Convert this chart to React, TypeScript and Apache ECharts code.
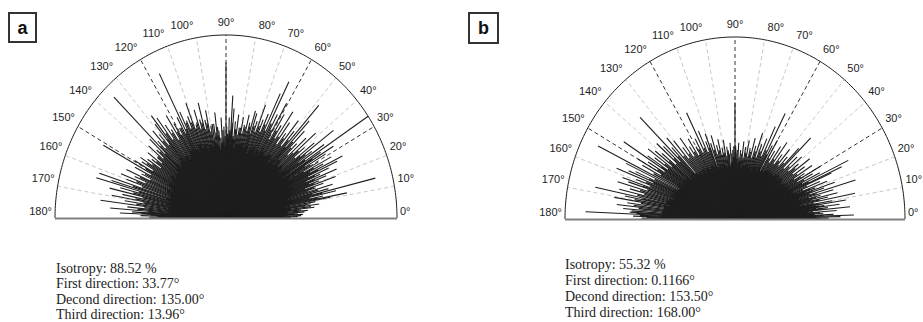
import React, { useEffect, useRef } from "react";
import * as echarts from "echarts";

const TICK_ANGLES = [0, 10, 20, 30, 40, 50, 60, 70, 80, 90, 100, 110, 120, 130, 140, 150, 160, 170, 180];
const TICK_LABELS = ["0°", "10°", "20°", "30°", "40°", "50°", "60°", "70°", "80°", "90°", "100°", "110°", "120°", "130°", "140°", "150°", "160°", "170°", "180°"];
const GRID_ANGLES = [10, 20, 30, 40, 50, 60, 70, 80, 90, 100, 110, 120, 130, 140, 150, 160, 170];
const MAJOR_GRID = [30, 60, 90, 120, 150];

const BLOB_BIN = 2;

// panel a: dense core (2° bins, fraction of radius)
const BLOB_A = [
  0.34, 0.36, 0.33, 0.38, 0.35, 0.37, 0.40, 0.36, 0.39, 0.41,
  0.38, 0.42, 0.40, 0.44, 0.41, 0.43, 0.40, 0.45, 0.42, 0.40,
  0.43, 0.41, 0.44, 0.40, 0.42, 0.39, 0.43, 0.41, 0.40, 0.42,
  0.39, 0.41, 0.38, 0.42, 0.40, 0.37, 0.41, 0.39, 0.42, 0.40,
  0.41, 0.38, 0.43, 0.40, 0.42, 0.39, 0.41, 0.37, 0.40, 0.42,
  0.39, 0.41, 0.38, 0.42, 0.40, 0.43, 0.39, 0.41, 0.40, 0.42,
  0.40, 0.38, 0.41, 0.39, 0.42, 0.40, 0.38, 0.41, 0.39, 0.37,
  0.38, 0.36, 0.39, 0.37, 0.35, 0.38, 0.36, 0.34, 0.37, 0.35,
  0.34, 0.36, 0.33, 0.35, 0.32, 0.34, 0.33, 0.31, 0.33, 0.32,
];

const SPIKE_ANGLES_A = [
  1.0, 2.5, 3.5, 5.0, 6.5, 8.0, 9.0, 10.5, 11.0, 12.0, 13.0, 14.0, 15.0, 16.5, 17.5, 18.5, 19.5,
  20.5, 21.5, 22.5, 23.5, 24.5, 25.5, 26.5, 27.5, 28.5, 29.5, 31.0, 32.0, 33.0, 33.8, 35.0, 36.0,
  37.3, 38.5, 40.0, 41.5, 43.0, 44.5, 46.0, 47.5, 48.6, 50.0, 51.5, 53.0, 54.5, 56.0, 57.5, 59.0,
  60.5, 62.0, 63.7, 65.0, 66.5, 68.0, 69.5, 71.0, 72.5, 73.6, 75.0, 76.5, 78.0, 79.5, 81.0, 82.5,
  84.0, 85.5, 86.6, 88.0, 89.5, 90.0,
  91.4, 93.0, 95.0, 96.5, 98.0, 100.0, 101.5, 103.0, 104.5, 106.0, 107.5, 109.0, 110.5, 112.0,
  113.5, 115.0, 116.3, 117.5, 119.0, 120.5, 122.0, 123.5, 125.0, 126.5, 128.0, 129.0, 130.5, 132.0,
  133.5, 134.8, 136.0, 137.5, 139.0, 140.5, 142.0, 143.5, 145.0, 146.5, 148.0, 149.5, 151.0, 152.5,
  154.0, 155.5, 157.0, 158.5, 160.0, 161.7, 163.0, 163.8, 165.0, 166.5, 168.0, 169.5, 171.0, 172.5,
  174.0, 175.4, 176.5, 177.5, 178.5, 179.5,
];
const SPIKE_LENGTHS_A = [
  0.42, 0.45, 0.40, 0.48, 0.52, 0.55, 0.50, 0.62, 0.72, 0.58, 0.66, 0.90, 0.62, 0.65, 0.55, 0.60, 0.68,
  0.58, 0.63, 0.70, 0.60, 0.66, 0.72, 0.76, 0.64, 0.70, 0.62, 0.68, 0.74, 0.66, 1.00, 0.70, 0.62,
  0.79, 0.66, 0.60, 0.70, 0.64, 0.58, 0.66, 0.72, 0.82, 0.62, 0.68, 0.58, 0.64, 0.70, 0.60, 0.66,
  0.72, 0.64, 0.83, 0.75, 0.62, 0.58, 0.66, 0.56, 0.60, 0.61, 0.54, 0.58, 0.52, 0.56, 0.50, 0.57,
  0.53, 0.60, 0.67, 0.55, 0.50, 0.85,
  0.50, 0.55, 0.48, 0.58, 0.52, 0.51, 0.60, 0.55, 0.65, 0.56, 0.62, 0.54, 0.67, 0.60,
  0.58, 0.64, 0.88, 0.62, 0.56, 0.60, 0.66, 0.58, 0.62, 0.68, 0.71, 0.66, 0.60, 0.64,
  0.58, 0.93, 0.62, 0.55, 0.60, 0.52, 0.58, 0.54, 0.56, 0.60, 0.58, 0.62, 0.82, 0.60,
  0.55, 0.64, 0.58, 0.66, 0.62, 0.78, 0.70, 0.79, 0.64, 0.70, 0.62, 0.68, 0.60, 0.74,
  0.58, 0.68, 0.55, 0.62, 0.50, 0.45,
];

// panel a: shorter fibres forming the ragged fringe of the core
const FRINGE_ANGLES_A = [
  0.5, 1.7, 3.0, 4.2, 5.8, 7.2, 8.5, 9.7, 11.6, 12.6, 13.5, 14.6, 15.8, 17.0, 18.0, 19.0, 20.0, 21.0,
  22.0, 23.0, 24.0, 25.0, 26.0, 27.0, 28.0, 29.0, 30.3, 31.5, 32.6, 34.4, 35.6, 36.7, 37.9, 39.2,
  40.8, 42.2, 43.8, 45.2, 46.8, 48.0, 49.3, 50.8, 52.2, 53.8, 55.2, 56.8, 58.2, 59.8, 61.2, 62.8,
  64.4, 65.8, 67.2, 68.8, 70.2, 71.8, 73.0, 74.3, 75.8, 77.2, 78.8, 80.2, 81.8, 83.2, 84.8, 86.0,
  87.3, 88.8,
  90.7, 92.2, 94.0, 95.8, 97.2, 99.0, 100.8, 102.2, 103.8, 105.2, 106.8, 108.2, 109.8, 111.2, 112.8,
  114.2, 115.6, 116.9, 118.2, 119.8, 121.2, 122.8, 124.2, 125.8, 127.2, 128.6, 129.8, 131.2, 132.8,
  134.2, 135.4, 136.8, 138.2, 139.8, 141.2, 142.8, 144.2, 145.8, 147.2, 148.8, 150.2, 151.8, 153.2,
  154.8, 156.2, 157.8, 159.2, 160.8, 162.4, 164.4, 165.8, 167.2, 168.8, 170.2, 171.8, 173.2, 174.7,
  176.0, 177.0, 178.0, 179.0,
];
const FRINGE_LENGTHS_A = [
  0.38, 0.44, 0.42, 0.46, 0.44, 0.50, 0.47, 0.53, 0.55, 0.50, 0.58, 0.52, 0.56, 0.50, 0.54, 0.49, 0.55, 0.52,
  0.56, 0.51, 0.57, 0.53, 0.60, 0.55, 0.58, 0.52, 0.57, 0.54, 0.60, 0.56, 0.52, 0.58, 0.55, 0.52,
  0.56, 0.53, 0.50, 0.54, 0.57, 0.52, 0.56, 0.51, 0.55, 0.50, 0.54, 0.52, 0.56, 0.50, 0.55, 0.58,
  0.53, 0.56, 0.51, 0.54, 0.50, 0.53, 0.48, 0.52, 0.49, 0.51, 0.47, 0.50, 0.46, 0.49, 0.45, 0.52,
  0.48, 0.46,
  0.45, 0.48, 0.44, 0.50, 0.47, 0.52, 0.48, 0.53, 0.50, 0.54, 0.51, 0.55, 0.52, 0.56, 0.53,
  0.57, 0.54, 0.52, 0.56, 0.52, 0.55, 0.51, 0.56, 0.53, 0.58, 0.55, 0.52, 0.56, 0.52,
  0.55, 0.50, 0.53, 0.49, 0.52, 0.48, 0.51, 0.47, 0.52, 0.55, 0.50, 0.54, 0.50, 0.53,
  0.49, 0.55, 0.51, 0.56, 0.52, 0.57, 0.53, 0.56, 0.50, 0.54, 0.49, 0.53, 0.48, 0.52,
  0.46, 0.50, 0.44, 0.40,
];

// panel b
const BLOB_B = [
  0.44, 0.42, 0.43, 0.40, 0.41, 0.39, 0.40, 0.38, 0.39, 0.37,
  0.38, 0.36, 0.37, 0.35, 0.36, 0.34, 0.35, 0.33, 0.34, 0.35,
  0.33, 0.35, 0.34, 0.32, 0.33, 0.31, 0.33, 0.32, 0.30, 0.31,
  0.30, 0.32, 0.29, 0.31, 0.30, 0.28, 0.30, 0.29, 0.31, 0.29,
  0.30, 0.28, 0.31, 0.29, 0.33, 0.34, 0.31, 0.29, 0.30, 0.28,
  0.29, 0.31, 0.28, 0.30, 0.29, 0.31, 0.30, 0.32, 0.30, 0.31,
  0.32, 0.30, 0.33, 0.31, 0.33, 0.32, 0.34, 0.33, 0.35, 0.33,
  0.34, 0.36, 0.35, 0.37, 0.35, 0.38, 0.36, 0.37, 0.39, 0.38,
  0.39, 0.37, 0.40, 0.41, 0.39, 0.42, 0.41, 0.43, 0.42, 0.44,
];

const SPIKE_ANGLES_B = [
  0.5, 1.2, 1.8, 2.5, 3.5, 4.5, 5.7, 6.5, 7.5, 8.3, 9.1, 10.0, 11.3, 12.5, 13.5, 14.5, 15.5, 16.8,
  18.0, 19.0, 20.0, 21.0, 22.5, 24.0, 24.6, 25.8, 27.0, 28.5, 30.0, 31.5, 33.0, 35.0, 37.0, 39.0,
  41.0, 43.0, 45.0, 46.0, 48.0, 50.0, 52.0, 54.0, 56.0, 58.0, 60.0, 61.5, 63.0, 65.0, 67.0, 69.0,
  71.0, 73.0, 75.0, 77.0, 79.0, 81.0, 83.0, 85.0, 87.0, 89.0, 90.0,
  92.0, 94.0, 95.5, 97.0, 99.0, 101.0, 103.0, 105.0, 107.0, 109.0, 110.5, 112.0, 114.0, 116.0,
  118.0, 120.0, 122.0, 124.0, 126.0, 128.0, 130.0, 132.0, 133.5, 135.0, 136.5, 138.0, 140.0, 141.5,
  143.0, 144.5, 146.0, 147.0, 148.5, 150.0, 151.5, 153.5, 154.5, 156.0, 157.0, 158.2, 159.5, 161.0,
  162.0, 163.5, 165.0, 166.5, 168.0, 169.0, 170.5, 172.0, 173.5, 175.0, 176.5, 177.4, 178.5, 179.5,
];
const SPIKE_LENGTHS_B = [
  0.55, 0.62, 0.70, 0.58, 0.52, 0.60, 0.68, 0.55, 0.62, 0.50, 0.66, 0.58, 0.72, 0.56, 0.62, 0.52, 0.60, 0.74,
  0.55, 0.62, 0.50, 0.58, 0.54, 0.62, 0.69, 0.74, 0.56, 0.52, 0.58, 0.48, 0.54, 0.50, 0.55, 0.48,
  0.52, 0.50, 0.63, 0.54, 0.46, 0.50, 0.45, 0.52, 0.48, 0.44, 0.50, 0.46, 0.65, 0.56, 0.48, 0.44,
  0.50, 0.42, 0.46, 0.40, 0.44, 0.40, 0.43, 0.38, 0.42, 0.36, 0.64,
  0.38, 0.42, 0.36, 0.40, 0.44, 0.40, 0.45, 0.42, 0.48, 0.44, 0.50, 0.46, 0.53, 0.65,
  0.50, 0.46, 0.52, 0.48, 0.55, 0.50, 0.56, 0.60, 0.54, 0.79, 0.58, 0.62, 0.56, 0.60,
  0.64, 0.58, 0.62, 0.78, 0.60, 0.66, 0.62, 0.90, 0.71, 0.64, 0.68, 0.75, 0.62, 0.70,
  0.66, 0.72, 0.64, 0.70, 0.84, 0.66, 0.72, 0.64, 0.70, 0.66, 0.62, 0.88, 0.60, 0.55,
];

const FRINGE_ANGLES_B = [
  0.2, 0.9, 2.1, 3.0, 4.0, 5.0, 6.1, 7.0, 7.9, 8.7, 9.6, 10.6, 11.9, 13.0, 14.0, 15.0, 16.2, 17.4,
  18.5, 19.5, 20.5, 21.8, 23.2, 25.2, 26.4, 27.8, 29.2, 30.8, 32.2, 34.0, 36.0, 38.0, 40.0, 42.0,
  44.0, 47.0, 49.0, 51.0, 53.0, 55.0, 57.0, 59.0, 62.2, 64.0, 66.0, 68.0, 70.0, 72.0, 74.0, 76.0,
  78.0, 80.0, 82.0, 84.0, 86.0, 88.0, 89.5,
  91.0, 93.0, 96.2, 98.0, 100.0, 102.0, 104.0, 106.0, 108.0, 111.2, 113.0, 115.0, 117.0, 119.0,
  121.0, 123.0, 125.0, 127.0, 129.0, 131.0, 134.2, 135.8, 137.2, 139.0, 140.8, 142.2, 143.8, 145.2,
  146.6, 147.8, 149.2, 150.8, 152.5, 155.2, 156.6, 157.6, 158.9, 160.2, 161.6, 162.8, 164.2, 165.8,
  167.2, 168.6, 169.8, 171.2, 172.8, 174.2, 175.8, 176.9, 178.0, 179.0,
];
const FRINGE_LENGTHS_B = [
  0.50, 0.48, 0.52, 0.47, 0.50, 0.46, 0.52, 0.48, 0.53, 0.46, 0.50, 0.47, 0.51, 0.46, 0.49, 0.45, 0.50, 0.46,
  0.48, 0.44, 0.47, 0.43, 0.46, 0.48, 0.44, 0.46, 0.42, 0.45, 0.41, 0.44, 0.42, 0.45, 0.41, 0.43,
  0.40, 0.42, 0.39, 0.41, 0.38, 0.40, 0.37, 0.39, 0.40, 0.42, 0.38, 0.40, 0.36, 0.39, 0.35, 0.38,
  0.35, 0.37, 0.34, 0.36, 0.34, 0.38, 0.40,
  0.40, 0.36, 0.38, 0.35, 0.37, 0.36, 0.39, 0.37, 0.40, 0.42, 0.40, 0.43, 0.41, 0.44,
  0.41, 0.44, 0.42, 0.45, 0.43, 0.46, 0.48, 0.45, 0.49, 0.46, 0.50, 0.47, 0.51, 0.48,
  0.52, 0.49, 0.53, 0.50, 0.54, 0.52, 0.55, 0.52, 0.56, 0.53, 0.57, 0.54, 0.58, 0.55,
  0.59, 0.56, 0.60, 0.56, 0.60, 0.57, 0.61, 0.58, 0.56, 0.52,
];

const PANEL_LETTERS = ["a", "b"];
const STATS_A = ["Isotropy: 88.52 %", "First direction: 33.77°", "Decond direction: 135.00°", "Third direction: 13.96°"];
const STATS_B = ["Isotropy: 55.32 %", "First direction: 0.1166°", "Decond direction: 153.50°", "Third direction: 168.00°"];

const PANELS = [
  {
    grid: { left: 55, top: 35, width: 342, height: 183 },
    blob: BLOB_A,
    spikeAngles: SPIKE_ANGLES_A, spikeLengths: SPIKE_LENGTHS_A,
    fringeAngles: FRINGE_ANGLES_A, fringeLengths: FRINGE_LENGTHS_A,
  },
  {
    grid: { left: 565, top: 37, width: 340, height: 182 },
    blob: BLOB_B,
    spikeAngles: SPIKE_ANGLES_B, spikeLengths: SPIKE_LENGTHS_B,
    fringeAngles: FRINGE_ANGLES_B, fringeLengths: FRINGE_LENGTHS_B,
  },
];

const INK = "#1e1e1e";

function pt(api: any, deg: number, r: number) {
  const t = (deg * Math.PI) / 180;
  return api.coord([r * Math.cos(t), r * Math.sin(t)]);
}

function rayRender(width: number) {
  return (params: any, api: any) => {
    const a = api.value(0);
    const r = api.value(1);
    const c = pt(api, a, 0);
    const e = pt(api, a, r);
    return {
      type: "line",
      shape: { x1: c[0], y1: c[1], x2: e[0], y2: e[1] },
      style: { stroke: INK, lineWidth: width },
    };
  };
}

function panelSeries(i: number, p: any) {
  const base = { type: "custom", coordinateSystem: "cartesian2d", xAxisIndex: i, yAxisIndex: i, silent: true, clip: false };
  return [
    {
      ...base,
      z: 1,
      data: GRID_ANGLES.map((a) => [a, 1]),
      renderItem: (params: any, api: any) => {
        const a = api.value(0);
        const c = pt(api, a, 0);
        const e = pt(api, a, 1);
        const major = MAJOR_GRID.includes(a);
        return {
          type: "line",
          shape: { x1: c[0], y1: c[1], x2: e[0], y2: e[1] },
          style: { stroke: major ? "#333" : "#c8c8c8", lineWidth: 1, lineDash: [4, 3] },
        };
      },
    },
    {
      ...base,
      z: 2,
      data: p.blob.map((v: number, k: number) => [k * BLOB_BIN, v]),
      renderItem: (params: any, api: any) => {
        const a = api.value(0);
        const r = api.value(1);
        const c = pt(api, a, 0);
        const p0 = pt(api, a, r);
        const p1 = pt(api, a + BLOB_BIN, r);
        return {
          type: "polygon",
          shape: { points: [c, p0, p1] },
          style: { fill: INK, stroke: INK, lineWidth: 0.8 },
        };
      },
    },
    {
      ...base,
      z: 3,
      data: p.fringeAngles.map((a: number, k: number) => [a, p.fringeLengths[k]]),
      renderItem: rayRender(1.3),
    },
    {
      ...base,
      z: 3,
      data: p.spikeAngles.map((a: number, k: number) => [a, p.spikeLengths[k]]),
      renderItem: rayRender(1.1),
    },
    {
      ...base,
      z: 4,
      data: [[0, 1]],
      renderItem: (params: any, api: any) => {
        const pts: number[][] = [];
        for (let d = 0; d <= 180; d += 1) pts.push(pt(api, d, 1));
        const l = pt(api, 180, 1);
        const r = pt(api, 0, 1);
        return {
          type: "group",
          children: [
            { type: "polyline", shape: { points: pts }, style: { stroke: INK, lineWidth: 1, fill: "none" } },
            { type: "line", shape: { x1: l[0], y1: l[1] + 0.5, x2: r[0], y2: r[1] + 0.5 }, style: { stroke: "#808080", lineWidth: 2 } },
          ],
        };
      },
    },
    {
      ...base,
      z: 5,
      data: TICK_ANGLES.map((a) => [a, 1]),
      renderItem: (params: any, api: any) => {
        const a = api.value(0);
        const e = pt(api, a, 1);
        const t = (a * Math.PI) / 180;
        const cs = Math.cos(t);
        let align = "center";
        let x = e[0];
        if (cs > 0.15) { align = "left"; x += 3; }
        else if (cs < -0.15) { align = "right"; x -= 3; }
        const y = e[1] - 7 - 6 * Math.sin(t);
        return {
          type: "text",
          x,
          y,
          style: {
            text: TICK_LABELS[params.dataIndex],
            fill: INK,
            font: '11px "Liberation Sans", Arial, sans-serif',
            align,
            verticalAlign: "middle",
          },
        };
      },
    },
  ];
}

export default function App() {
  const ref = useRef<HTMLDivElement>(null);
  useEffect(() => {
    document.body.style.margin = "0";
    const chart = echarts.init(ref.current!, null, { renderer: "svg" });
    const graphic: any[] = [];
    const boxes = [
      { x: 9, y: 13, w: 27, h: 29 },
      { x: 469, y: 13, w: 29, h: 30 },
    ];
    boxes.forEach((b, i) => {
      graphic.push({
        type: "rect",
        shape: { x: b.x, y: b.y, width: b.w, height: b.h },
        style: { fill: "#fff", stroke: "#333", lineWidth: 2 },
      });
      graphic.push({
        type: "text",
        x: b.x + b.w / 2,
        y: b.y + b.h / 2,
        style: {
          text: PANEL_LETTERS[i],
          font: 'bold 18px "Liberation Sans", Arial, sans-serif',
          fill: "#111",
          align: "center",
          verticalAlign: "middle",
          textAlign: "center",
          textVerticalAlign: "middle",
        },
      });
    });
    const statsPos = [
      { x: 56, y: 268, dy: 15.5, lines: STATS_A },
      { x: 565, y: 264, dy: 16, lines: STATS_B },
    ];
    statsPos.forEach((s) => {
      s.lines.forEach((line, k) => {
        graphic.push({
          type: "text",
          x: s.x,
          y: s.y + k * s.dy,
          style: {
            text: line,
            font: '14px "Liberation Serif", "Times New Roman", serif',
            fill: "#222",
            align: "left",
            verticalAlign: "middle",
            textAlign: "left",
            textVerticalAlign: "middle",
          },
        });
      });
    });

    chart.setOption({
      animation: false,
      backgroundColor: "#fff",
      grid: PANELS.map((p) => ({ ...p.grid, containLabel: false })),
      xAxis: PANELS.map((p, i) => ({ type: "value", gridIndex: i, min: -1, max: 1, show: false })),
      yAxis: PANELS.map((p, i) => ({ type: "value", gridIndex: i, min: 0, max: 1, show: false })),
      series: PANELS.flatMap((p, i) => panelSeries(i, p)),
      graphic,
    });
    return () => chart.dispose();
  }, []);
  return <div ref={ref} style={{ width: 923, height: 322 }} />;
}
